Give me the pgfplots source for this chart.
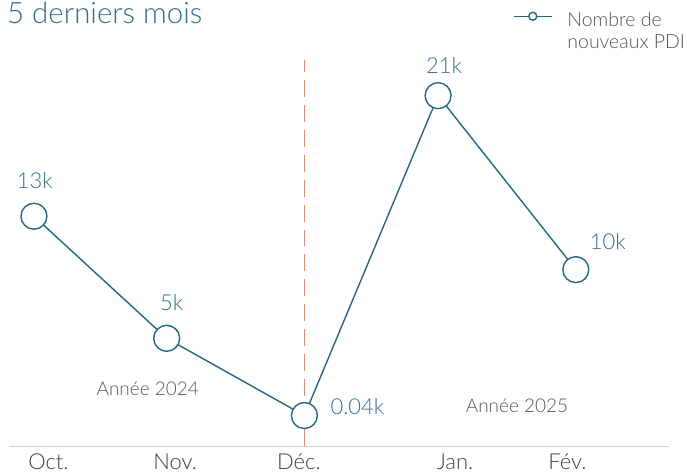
\documentclass[border=0pt]{standalone}
\usepackage{fontspec}
\setmainfont{Lato Light}
\usepackage{pgfplots}
\pgfplotsset{compat=1.18}
\definecolor{lineteal}{HTML}{26667F}
\definecolor{titleteal}{HTML}{2E6D86}
\definecolor{labelteal}{HTML}{326F89}
\definecolor{tickgray}{HTML}{3F3F3F}
\definecolor{notegray}{HTML}{555555}
\definecolor{axisgray}{HTML}{D0D0D0}
\definecolor{dashred}{HTML}{EC8872}
\begin{document}
\begin{tikzpicture}
\begin{axis}[
  scale only axis, width=661pt, height=447pt,
  xmin=9, xmax=670, ymin=-1.962, ymax=27.27,
  axis x line=bottom, axis y line=none,
  x axis line style={draw=axisgray, line width=1pt, -},
  xtick={48.5,175.5,299.5,456,568.5},
  xticklabels={Oct.,Nov.,Déc.,Jan.,Fév.},
  major tick length=0pt,
  xticklabel style={font=\fontsize{22}{24}\selectfont, text=tickgray, yshift=-4pt},
  clip=false,
  legend style={at={(axis cs:514,26.6)}, anchor=north west, draw=none, fill=none,
    font=\fontsize{19.5}{22}\selectfont, text=notegray, cells={align=left}, inner sep=0pt,
    /tikz/every odd column/.append style={column sep=13pt}},
  legend cell align=left,
  legend image code/.code={%
    \draw[lineteal,line width=1.4pt] (0pt,15pt)--(38pt,15pt);
    \draw[lineteal,fill=white,line width=1.4pt] (19pt,15pt) circle (4pt);},
]
\addplot[dashred, line width=1.5pt, dash pattern=on 17pt off 8pt, forget plot]
  coordinates {(305,-1.962) (305,23.35)};
\addplot[lineteal, line width=1.4pt, mark=*, mark size=13pt,
  mark options={fill=white, line width=1.4pt}]
  coordinates {(34,13.1) (167,5.1) (305,0.04) (439,21.0) (577,9.6)};
\addlegendentry{Nombre de\\nouveaux PDI}

\node[anchor=base west, text=titleteal, font=\fontsize{29.5}{31}\selectfont, inner sep=0pt]
  at (axis cs:7,25.70) {5 derniers mois};
\node[text=labelteal, font=\fontsize{22}{24}\selectfont] at (axis cs:35,15.43) {13k};
\node[text=labelteal, font=\fontsize{22}{24}\selectfont] at (axis cs:172,7.46) {5k};
\node[text=labelteal, font=\fontsize{22}{24}\selectfont, anchor=west, inner sep=0pt] at (axis cs:331,0.654) {0.04k};
\node[text=labelteal, font=\fontsize{22}{24}\selectfont] at (axis cs:445,22.96) {21k};
\node[text=labelteal, font=\fontsize{22}{24}\selectfont] at (axis cs:609,11.45) {10k};
\node[text=notegray, font=\fontsize{19}{21}\selectfont] at (axis cs:148,1.766) {Année 2024};
\node[text=notegray, font=\fontsize{19}{21}\selectfont] at (axis cs:518,0.654) {Année 2025};

\coordinate (bbA) at (axis cs:0,-3.597);
\coordinate (bbB) at (axis cs:687,27.27);
\end{axis}
\path (bbA) rectangle (bbB);
\end{tikzpicture}
\end{document}
